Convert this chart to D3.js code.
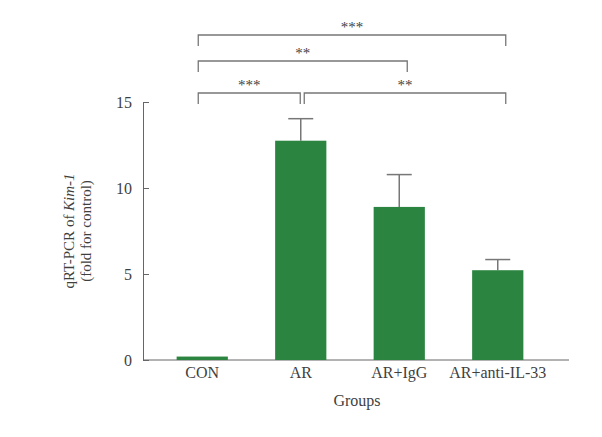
<!DOCTYPE html>
<html>
<head>
<meta charset="utf-8">
<script src="https://cdn.jsdelivr.net/npm/d3@7"></script>
<style>
  body { margin: 0; background: #fff; }
  svg text { font-family: "Liberation Serif", "DejaVu Serif", serif; fill: #3f3f3f; }
</style>
</head>
<body>
<div id="chart"></div>
<script>
// values
var groups = ["CON", "AR", "AR+IgG", "AR+anti-IL-33"];
var means = [0.2, 12.75, 8.9, 5.22];
var errs = [0, 1.28, 1.88, 0.62];
var yTicks = [0, 5, 10, 15];
// significance brackets: from, to, label, level (0 = lowest)
var brFrom = ["CON", "AR", "CON", "CON"];
var brTo = ["AR", "AR+anti-IL-33", "AR+IgG", "AR+anti-IL-33"];
var brLabel = ["***", "**", "**", "***"];
var brLevel = [0, 0, 1, 2];

var width = 602, height = 437;

var svg = d3.select("#chart").append("svg")
    .attr("width", width)
    .attr("height", height);

var x = d3.scaleBand()
    .domain(groups)
    .range([153, 547])
    .paddingInner(0.48)
    .paddingOuter(0.24);

var y = d3.scaleLinear()
    .domain([0, 15])
    .range([360, 102]);

var axisColor = "#666";

// y axis, ticks pointing inward
var yAxis = svg.append("g")
    .attr("transform", "translate(143,0)")
    .call(d3.axisRight(y).tickValues(yTicks).tickSize(6).tickSizeOuter(0));
yAxis.select(".domain").attr("stroke", axisColor);
yAxis.selectAll(".tick line").attr("stroke", axisColor);
yAxis.selectAll(".tick text")
    .attr("x", -11)
    .attr("text-anchor", "end")
    .style("font-size", "16px")
    .style("font-family", "Liberation Serif, serif")
    .attr("fill", "#3f3f3f");

// x axis line
svg.append("line")
    .attr("x1", 143).attr("x2", 569)
    .attr("y1", y(0)).attr("y2", y(0))
    .attr("stroke", axisColor);

svg.selectAll(".xlab")
    .data(groups)
    .enter().append("text")
    .attr("class", "xlab")
    .attr("x", function(d) { return x(d) + x.bandwidth() / 2; })
    .attr("y", 378)
    .attr("text-anchor", "middle")
    .style("font-size", "16px")
    .text(function(d) { return d; });

svg.append("text")
    .attr("x", 357)
    .attr("y", 406)
    .attr("text-anchor", "middle")
    .style("font-size", "16px")
    .text("Groups");

// y axis title
var yt = svg.append("text")
    .attr("transform", "translate(74,231) rotate(-90)")
    .attr("text-anchor", "middle")
    .style("font-size", "15px");
yt.append("tspan").text("qRT-PCR of ");
yt.append("tspan").style("font-style", "italic").text("Kim-1");
svg.append("text")
    .attr("transform", "translate(91,231) rotate(-90)")
    .attr("text-anchor", "middle")
    .style("font-size", "15px")
    .text("(fold for control)");

// error bars (upper only)
var err = svg.append("g").attr("stroke", "#777").attr("stroke-width", 1.5);
groups.forEach(function(g, i) {
  if (errs[i] <= 0) return;
  var cx = x(g) + x.bandwidth() / 2;
  err.append("line")
      .attr("x1", cx).attr("x2", cx)
      .attr("y1", y(means[i])).attr("y2", y(means[i] + errs[i]));
  err.append("line")
      .attr("x1", cx - 12.5).attr("x2", cx + 12.5)
      .attr("y1", y(means[i] + errs[i])).attr("y2", y(means[i] + errs[i]));
});

// bars
svg.selectAll(".bar")
    .data(groups)
    .enter().append("rect")
    .attr("class", "bar")
    .attr("x", function(d) { return x(d); })
    .attr("width", x.bandwidth())
    .attr("y", function(d, i) { return y(means[i]); })
    .attr("height", function(d, i) { return y(0) - y(means[i]); })
    .attr("fill", "#2b8540");

// significance brackets
var levelY = [93, 61, 35];
var br = svg.append("g");
brLabel.forEach(function(lab, i) {
  var x1 = x(brFrom[i]) + x.bandwidth() / 2 + (brFrom[i] === "AR" ? 3.5 : -4);
  var x2 = x(brTo[i]) + x.bandwidth() / 2 + (brTo[i] === "AR" ? -0.5 : 8);
  var by = levelY[brLevel[i]];
  br.append("path")
      .attr("d", "M" + x1 + "," + (by + 11) + "V" + by + "H" + x2 + "V" + (by + 11))
      .attr("fill", "none")
      .attr("stroke", "#777")
      .attr("stroke-width", 1.3);
  br.append("text")
      .attr("x", (x1 + x2) / 2)
      .attr("y", by - 3)
      .attr("text-anchor", "middle")
      .style("font-size", "15px")
      .attr("fill", "#666")
      .text(lab);
});
</script>
</body>
</html>
